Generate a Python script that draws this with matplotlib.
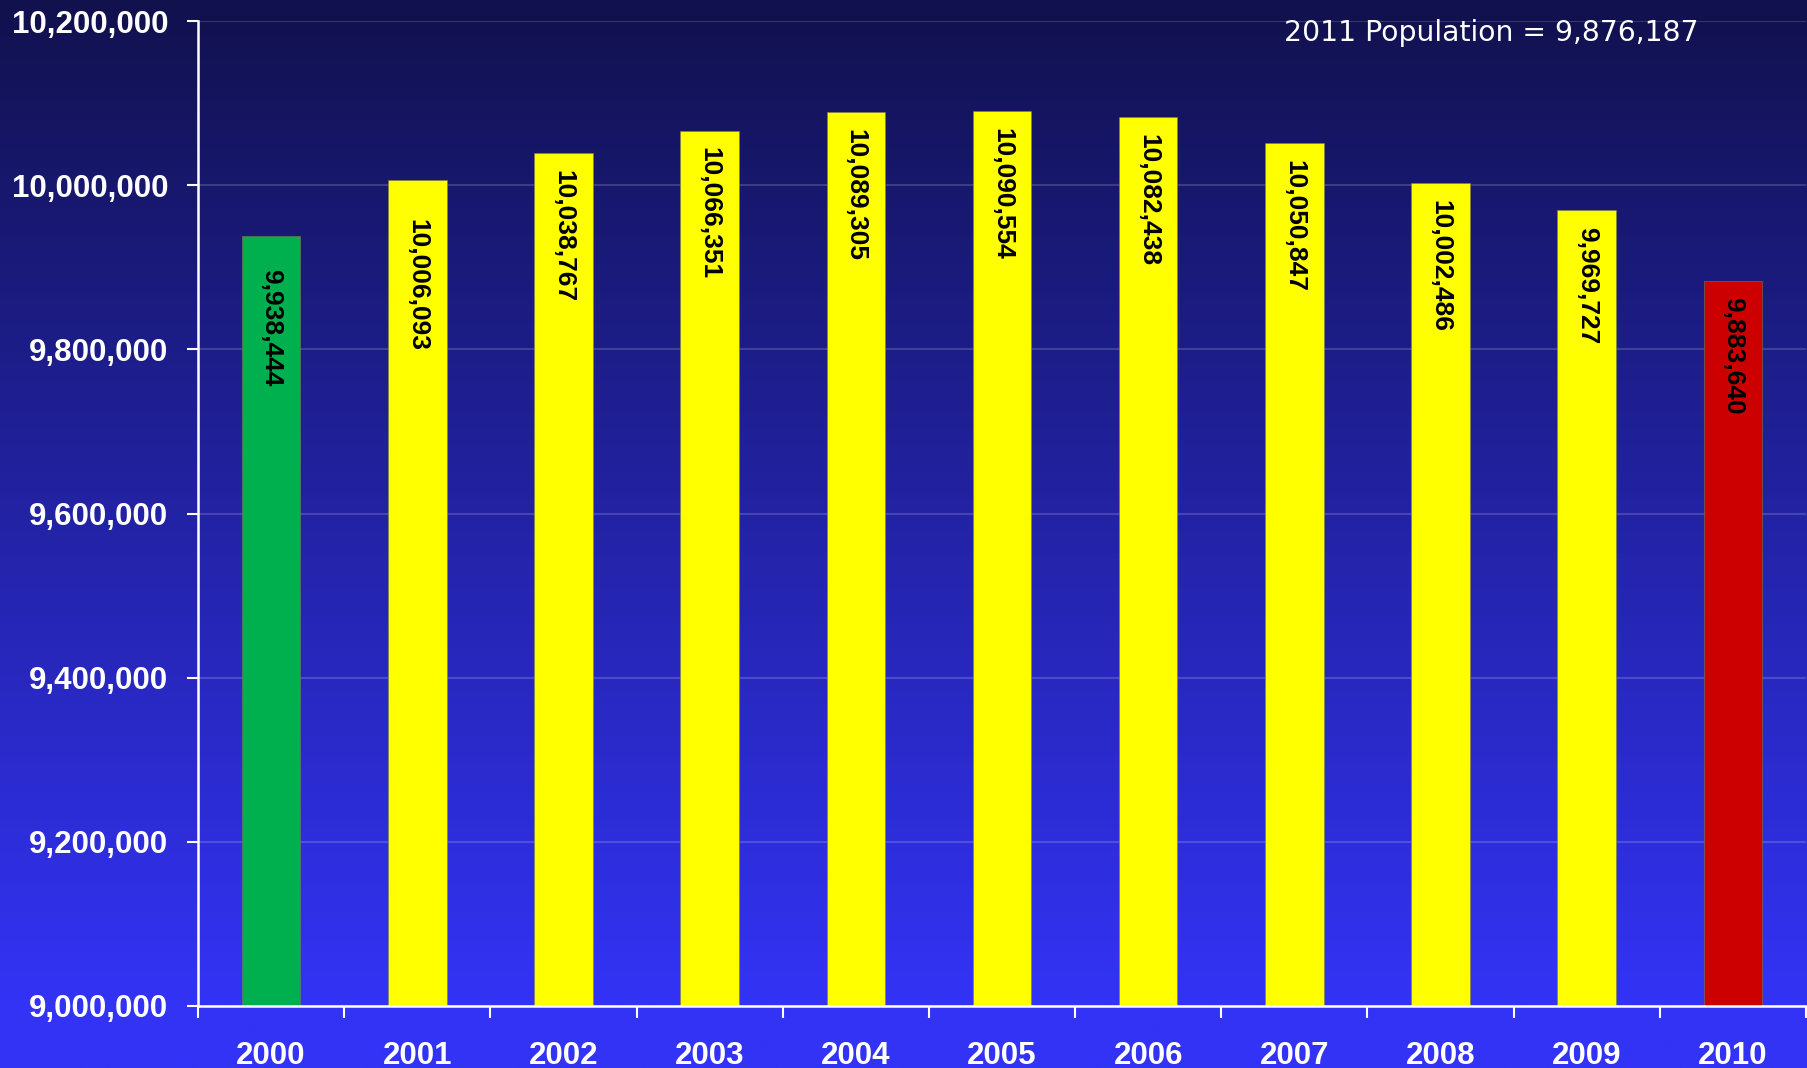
import numpy as np
import matplotlib
matplotlib.use("Agg")
import matplotlib.pyplot as plt
from matplotlib.ticker import FuncFormatter, FixedLocator

# ---- data ----
years = ["2000", "2001", "2002", "2003", "2004", "2005", "2006", "2007", "2008", "2009", "2010"]
population = [9938444, 10006093, 10038767, 10066351, 10089305, 10090554,
              10082438, 10050847, 10002486, 9969727, 9883640]
bar_colors = ["#00B04F", "#FFFF00", "#FFFF00", "#FFFF00", "#FFFF00", "#FFFF00",
              "#FFFF00", "#FFFF00", "#FFFF00", "#FFFF00", "#CC0000"]
y_ticks = [9000000, 9200000, 9400000, 9600000, 9800000, 10000000, 10200000]
note_text = "2011 Population = 9,876,187"

# label offsets below bar top (points) — style
label_offsets = [24, 28, 12, 12, 12, 12, 12, 12, 12, 12, 12]

W, H = 1808, 1068
fig = plt.figure(figsize=(W / 100, H / 100), dpi=100)

# background gradient
bg = fig.add_axes([0, 0, 1, 1], zorder=-10)
bg.set_axis_off()
n = 512
t = np.clip(np.linspace(0, 1, n) / (1000 / 1068), 0, 1)
top = np.array([17, 17, 78]) / 255.0
bot = np.array([51, 51, 246]) / 255.0
grad = top[None, :] * (1 - t[:, None]) + bot[None, :] * t[:, None]
img = np.repeat(grad[:, None, :], 4, axis=1)
bg.imshow(img, aspect="auto", extent=[0, 1, 0, 1], origin="upper")
bg.set_xlim(0, 1)
bg.set_ylim(0, 1)

ax = fig.add_axes([198 / W, 1 - 1006 / H, (1806 - 198) / W, (1006 - 21) / H])
ax.patch.set_alpha(0)

x = np.arange(len(years))
bars = ax.bar(x, population, width=0.40, color=bar_colors, zorder=3,
              edgecolor="#7a7a50", linewidth=0.4)

ax.set_ylim(9000000, 10200000)
ax.set_xlim(-0.5, len(years) - 0.5)
ax.set_yticks(y_ticks)
ax.yaxis.set_major_formatter(FuncFormatter(lambda v, p: f"{int(v):,}"))
ax.grid(axis="y", color="white", alpha=0.16, linewidth=1.5, zorder=0)
ax.set_axisbelow(True)

# x ticks at boundaries, labels at centers
ax.xaxis.set_major_locator(FixedLocator(np.arange(-0.5, len(years), 1.0)))
ax.xaxis.set_major_formatter(FuncFormatter(lambda v, p: ""))
ax.xaxis.set_minor_locator(FixedLocator(x))
ax.set_xticklabels(years, minor=True)
ax.tick_params(axis="x", which="major", direction="out", length=8.3, width=1.5, color="white")
ax.tick_params(axis="x", which="minor", length=0, pad=25, labelsize=22.5, labelcolor="white")
ax.tick_params(axis="y", direction="out", length=8, width=1.5, color="white",
               pad=13.5, labelsize=22.5, labelcolor="white")
for lab in ax.get_xticklabels(minor=True) + ax.get_yticklabels():
    lab.set_fontfamily("Liberation Sans")
    lab.set_fontweight("bold")

for s in ["top", "right"]:
    ax.spines[s].set_visible(False)
for s in ["left", "bottom"]:
    ax.spines[s].set_color("white")
    ax.spines[s].set_linewidth(1.8)
    ax.spines[s].set_zorder(5)

for xi, v, off in zip(x, population, label_offsets):
    ax.annotate(f"{v:,}", xy=(xi, v), xytext=(0, -off), textcoords="offset points",
                rotation=-90, ha="center", va="top", fontsize=19,
                fontfamily="Liberation Sans", fontweight="bold", color="black", zorder=6)

fig.text(1284 / W, 1 - 33 / H, note_text, ha="left", va="center", fontsize=20.3,
         color="white", fontfamily="DejaVu Sans")

fig.savefig("out.png", dpi=100)
